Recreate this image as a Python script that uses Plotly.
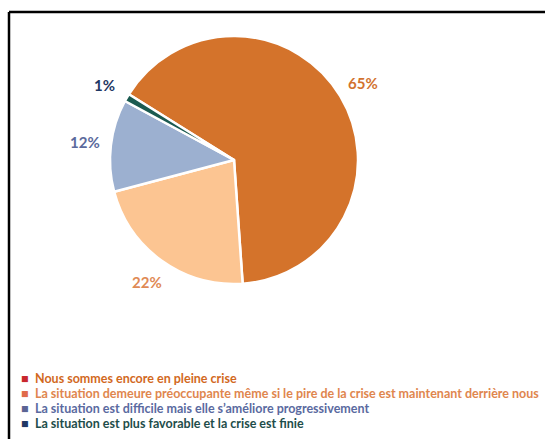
import math
import plotly.graph_objects as go

# Survey answers and their shares (%)
categories = [
    "Nous sommes encore en pleine crise",
    "La situation demeure préoccupante même si le pire de la crise est maintenant derrière nous",
    "La situation est difficile mais elle s\u2019améliore progressivement",
    "La situation est plus favorable et la crise est finie",
]
values = [65, 22, 12, 1]

slice_colors = ["#D4732B", "#FCC592", "#9CB0D0", "#1B5A50"]
label_colors = ["#D2722F", "#DF8A55", "#5B6A9C", "#1F3864"]
legend_square_colors = ["#C8282D", "#E06B4A", "#5B6494", "#1F3864"]
legend_text_colors = ["#D2691E", "#E0864E", "#5A6AA0", "#1E4D4A"]

W, H = 545, 439
cx, cy, R = 234, 160, 124          # pie centre / radius in pixels
rotation = -58                      # first slice starts 58° left of 12 o'clock

fig = go.Figure()
fig.add_trace(go.Pie(
    labels=categories,
    values=values,
    sort=False,
    direction="clockwise",
    rotation=rotation,
    marker=dict(colors=slice_colors, line=dict(color="white", width=2.5)),
    textinfo="none",
    hoverinfo="label+percent",
    showlegend=False,
    domain=dict(x=[(cx - R) / W, (cx + R) / W], y=[1 - (cy + R) / H, 1 - (cy - R) / H]),
))

# Percentage labels placed outside each slice at its mid-angle
total = sum(values)
start = 90 - rotation
acc = 0.0
label_r = 1.21 * R
for v, col in zip(values, label_colors):
    mid = start - (acc + v / 2) / total * 360
    acc += v
    px = cx + label_r * math.cos(math.radians(mid))
    py = cy - label_r * math.sin(math.radians(mid))
    fig.add_annotation(
        x=px / W, y=1 - py / H, xref="paper", yref="paper",
        text=f"<b>{round(v / total * 100)}%</b>", showarrow=False,
        font=dict(family="Lato, Open Sans, sans-serif", size=15, color=col),
        xanchor="center", yanchor="middle",
    )

# Legend drawn as coloured rows
for i, (name, sq, tc) in enumerate(zip(categories, legend_square_colors, legend_text_colors)):
    y_px = 378 + 15 * i
    fig.add_annotation(
        x=19 / W, y=1 - y_px / H, xref="paper", yref="paper",
        text=f"<span style='color:{sq}'>■</span>  <b>{name}</b>",
        showarrow=False, xanchor="left", yanchor="middle",
        font=dict(family="Lato, Open Sans, sans-serif", size=12.5, color=tc),
    )

# Frame lines on the left and top
fig.add_shape(type="line", xref="paper", yref="paper",
              x0=9 / W, x1=9 / W, y0=0, y1=1 - 12 / H, line=dict(color="black", width=2.5))
fig.add_shape(type="line", xref="paper", yref="paper",
              x0=9 / W, x1=1, y0=1 - 12 / H, y1=1 - 12 / H, line=dict(color="black", width=2.5))

fig.update_layout(
    width=W, height=H,
    margin=dict(l=0, r=0, t=0, b=0),
    paper_bgcolor="white", plot_bgcolor="white",
)
fig.write_html("out.html")
